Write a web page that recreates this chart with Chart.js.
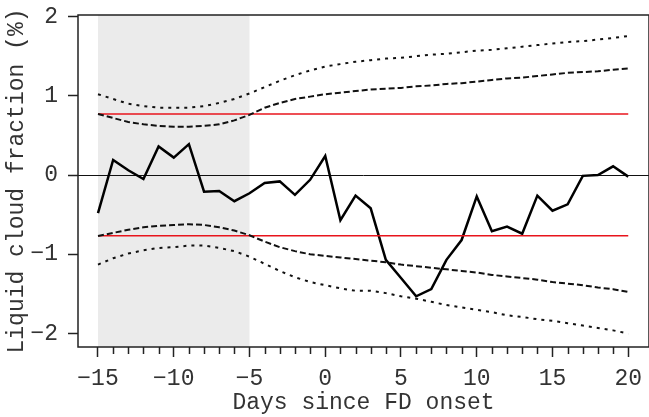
<!DOCTYPE html>
<html>
<head>
<meta charset="utf-8">
<script src="https://cdn.jsdelivr.net/npm/chart.js@4/dist/chart.umd.min.js"></script>
<style>
  html, body { margin: 0; padding: 0; background: #fff; overflow: hidden; }
  #wrap { width: 649px; height: 417px; }
</style>
</head>
<body>
<div id="wrap"><canvas id="cloudChart"></canvas></div>
<script>
// days relative to FD onset
const days = [-15, -14, -13, -12, -11, -10, -9, -8, -7, -6, -5, -4, -3, -2, -1, 0,
  1, 2, 3, 4, 5, 6, 7, 8, 9, 10, 11, 12, 13, 14, 15, 16, 17, 18, 19, 20];

// composite anomaly of liquid cloud fraction (%)
const anomaly = [-0.48, 0.19, 0.06, -0.05, 0.36, 0.22, 0.39, -0.21, -0.20, -0.33, -0.23,
  -0.10, -0.08, -0.25, -0.06, 0.24, -0.57, -0.26, -0.42, -1.07, -1.30, -1.53, -1.44,
  -1.07, -0.82, -0.27, -0.71, -0.65, -0.74, -0.26, -0.45, -0.37, -0.01, 0.00, 0.11, -0.02];

// inner significance bounds (dashed)
const innerUpper = [0.77, 0.72, 0.67, 0.64, 0.62, 0.61, 0.61, 0.62, 0.64, 0.69, 0.76,
  0.85, 0.91, 0.96, 0.99, 1.02, 1.04, 1.06, 1.08, 1.09, 1.10, 1.12, 1.13, 1.15, 1.16,
  1.18, 1.20, 1.22, 1.23, 1.25, 1.27, 1.29, 1.30, 1.31, 1.33, 1.345];
const innerLower = [-0.77, -0.73, -0.69, -0.66, -0.64, -0.63, -0.62, -0.63, -0.66, -0.70, -0.76,
  -0.84, -0.91, -0.96, -1.00, -1.02, -1.04, -1.06, -1.08, -1.10, -1.13, -1.15, -1.17, -1.19,
  -1.21, -1.23, -1.26, -1.28, -1.30, -1.32, -1.35, -1.37, -1.39, -1.42, -1.44, -1.475];

// outer significance bounds (dotted)
const outerUpper = [1.02, 0.96, 0.90, 0.87, 0.85, 0.85, 0.85, 0.87, 0.91, 0.96, 1.03,
  1.11, 1.19, 1.26, 1.32, 1.37, 1.40, 1.43, 1.45, 1.47, 1.48, 1.50, 1.52, 1.53, 1.55,
  1.57, 1.58, 1.60, 1.62, 1.64, 1.66, 1.68, 1.69, 1.71, 1.73, 1.755];
const outerLower = [-1.13, -1.05, -0.99, -0.95, -0.92, -0.91, -0.89, -0.89, -0.92, -0.96, -1.03,
  -1.12, -1.21, -1.29, -1.35, -1.39, -1.43, -1.46, -1.46, -1.49, -1.53, -1.56, -1.60, -1.64,
  -1.67, -1.70, -1.73, -1.77, -1.79, -1.82, -1.84, -1.87, -1.90, -1.93, -1.96, -2.00];

// constant thresholds (red)
const thresholdDays = [-15, 20];
const thresholdUpper = [0.77, 0.77];
const thresholdLower = [-0.765, -0.765];

// shaded pre-onset window
const shadeRange = [-15, -5];

const yTicks = [-2, -1, 0, 1, 2];
const xTicks = days;

function toPoints(xs, ys) {
  return xs.map((x, i) => ({ x: x, y: ys[i] }));
}

const monoFont = { family: "'Liberation Mono', 'DejaVu Sans Mono', monospace", size: 23 };

// the axes should not reserve room for half labels at the ends
function noEndPadding(scale) {
  scale.paddingLeft = 0;
  scale.paddingRight = 0;
  scale.paddingTop = 0;
  scale.paddingBottom = 0;
}

// grey window, drawn before the grid so the zero line stays on top
const shadePlugin = {
  id: 'shade',
  beforeDraw(chart) {
    const { ctx, chartArea, scales } = chart;
    const x0 = scales.x.getPixelForValue(shadeRange[0]);
    const x1 = scales.x.getPixelForValue(shadeRange[1]);
    ctx.save();
    ctx.fillStyle = '#ebebeb';
    ctx.fillRect(x0, chartArea.top, x1 - x0, chartArea.bottom - chartArea.top);
    ctx.restore();
  }
};

// box round the plot and the short minor ticks
const framePlugin = {
  id: 'frame',
  afterDraw(chart) {
    const { ctx, chartArea, scales } = chart;
    ctx.save();
    ctx.strokeStyle = '#222';
    ctx.lineWidth = 1.5;
    ctx.strokeRect(chartArea.left, chartArea.top,
      chartArea.right - chartArea.left, chartArea.bottom - chartArea.top);
    ctx.beginPath();
    xTicks.forEach(v => {
      if (v % 5 === 0) return;
      const px = Math.round(scales.x.getPixelForValue(v)) + 0.5;
      ctx.moveTo(px, chartArea.bottom);
      ctx.lineTo(px, chartArea.bottom + 7);
    });
    ctx.stroke();
    ctx.restore();
  }
};

function initChart() {
  const ctx = document.getElementById('cloudChart').getContext('2d');
  new Chart(ctx, {
    type: 'line',
    data: {
      datasets: [
        {
          label: 'outer upper',
          data: toPoints(days, outerUpper),
          borderColor: '#111',
          borderWidth: 2,
          borderDash: [3, 5]
        },
        {
          label: 'outer lower',
          data: toPoints(days, outerLower),
          borderColor: '#111',
          borderWidth: 2,
          borderDash: [3, 5]
        },
        {
          label: 'inner upper',
          data: toPoints(days, innerUpper),
          borderColor: '#111',
          borderWidth: 2,
          borderDash: [6, 3]
        },
        {
          label: 'inner lower',
          data: toPoints(days, innerLower),
          borderColor: '#111',
          borderWidth: 2,
          borderDash: [6, 3]
        },
        {
          label: 'threshold upper',
          data: toPoints(thresholdDays, thresholdUpper),
          borderColor: '#e8141c',
          borderWidth: 1.5
        },
        {
          label: 'threshold lower',
          data: toPoints(thresholdDays, thresholdLower),
          borderColor: '#e8141c',
          borderWidth: 1.5
        },
        {
          label: 'anomaly',
          data: toPoints(days, anomaly),
          borderColor: '#000',
          borderWidth: 2.5
        }
      ]
    },
    options: {
      responsive: true,
      maintainAspectRatio: false,
      animation: false,
      devicePixelRatio: 1,
      layout: { padding: { top: 15, right: 0, left: 0, bottom: 0 } },
      elements: {
        point: { radius: 0, hoverRadius: 0 },
        line: { tension: 0, fill: false, borderJoinStyle: 'miter' }
      },
      plugins: {
        legend: { display: false },
        tooltip: { enabled: false }
      },
      scales: {
        x: {
          type: 'linear',
          min: -16.32,
          max: 21.37,
          afterBuildTicks: scale => { scale.ticks = xTicks.map(v => ({ value: v })); },
          afterFit: scale => { scale.height = 70; noEndPadding(scale); },
          border: { display: false },
          grid: {
            drawOnChartArea: false,
            drawTicks: true,
            tickLength: 10,
            tickWidth: 1.5,
            tickColor: c => (c.tick && c.tick.value % 5 === 0) ? '#222' : 'rgba(0,0,0,0)'
          },
          ticks: {
            autoSkip: false,
            maxRotation: 0,
            padding: 8,
            color: '#333',
            font: monoFont,
            callback: v => (v % 5 === 0 ? String(v).replace('-', '\u2212') : '')
          },
          title: {
            display: true,
            text: 'Days since FD onset',
            color: '#333',
            font: monoFont,
            padding: { top: 0, bottom: 0 }
          }
        },
        y: {
          type: 'linear',
          min: -2.17,
          max: 2.02,
          afterBuildTicks: scale => { scale.ticks = yTicks.map(v => ({ value: v })); },
          afterFit: scale => { scale.width = 78; noEndPadding(scale); },
          border: { display: false },
          grid: {
            drawOnChartArea: true,
            drawTicks: true,
            tickLength: 10,
            tickWidth: 1.5,
            tickColor: '#222',
            lineWidth: 1,
            color: c => (c.tick && c.tick.value === 0) ? '#111' : 'rgba(0,0,0,0)'
          },
          ticks: {
            padding: 10,
            color: '#333',
            font: monoFont,
            callback: v => String(v).replace('-', '\u2212')
          },
          title: {
            display: true,
            text: 'Liquid cloud fraction (%)',
            color: '#333',
            font: monoFont,
            padding: { top: 3, bottom: 0 }
          }
        }
      }
    },
    plugins: [shadePlugin, framePlugin]
  });
}

window.onload = initChart;
</script>
</body>
</html>
